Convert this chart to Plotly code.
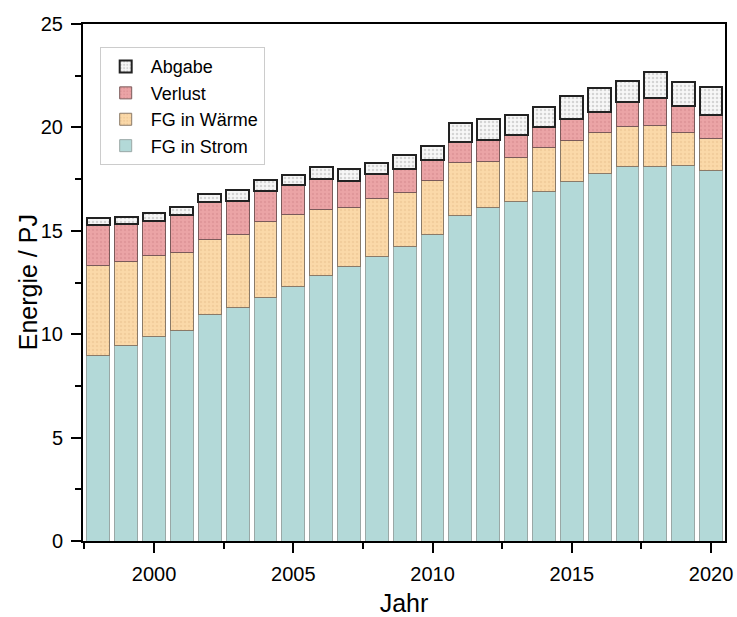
import plotly.graph_objects as go

years = list(range(1998, 2021))
fg_strom = [8.95, 9.46, 9.88, 10.19, 10.93, 11.30, 11.78, 12.31, 12.86, 13.25, 13.77, 14.23,
            14.80, 15.73, 16.12, 16.40, 16.92, 17.38, 17.76, 18.09, 18.12, 18.17, 17.93]
fg_waerme = [4.38, 4.05, 3.95, 3.75, 3.67, 3.52, 3.66, 3.50, 3.15, 2.89, 2.78, 2.61,
             2.61, 2.56, 2.22, 2.14, 2.12, 2.00, 1.97, 1.94, 1.98, 1.59, 1.51]
verlust = [1.95, 1.80, 1.66, 1.81, 1.78, 1.64, 1.48, 1.41, 1.48, 1.25, 1.20, 1.13,
           1.01, 1.00, 1.05, 1.09, 0.99, 1.03, 1.03, 1.18, 1.31, 1.27, 1.16]
abgabe = [0.32, 0.34, 0.36, 0.42, 0.42, 0.53, 0.54, 0.50, 0.61, 0.61, 0.51, 0.70,
          0.70, 0.92, 1.03, 0.97, 0.97, 1.12, 1.15, 1.03, 1.27, 1.17, 1.37]

series = [
    ("FG in Strom", fg_strom, "#b3d9d8", None, "#9aa8a6", 1),
    ("FG in Wärme", fg_waerme, "#fbd9a9", "#e8c08e", "#8a7a68", 1),
    ("Verlust", verlust, "#eba4a6", "#d48a8e", "#7a5a5a", 1),
    ("Abgabe", abgabe, "#f7f7f7", "#b0b0b0", "#222222", 2),
]

fig = go.Figure()
for name, vals, col, dotcol, linecol, lw in series:
    marker = dict(color=col, line=dict(color=linecol, width=lw))
    if dotcol:
        marker["pattern"] = dict(shape=".", bgcolor=col, fgcolor=dotcol,
                                 size=4, solidity=0.3, fillmode="overlay")
    fig.add_trace(go.Bar(x=years, y=vals, name=name, marker=marker, width=0.82))

fig.update_layout(
    barmode="stack",
    width=737, height=617,
    margin=dict(l=83, r=12, t=24, b=76),
    paper_bgcolor="white", plot_bgcolor="white",
    font=dict(family="Liberation Sans, Arial, sans-serif", color="black"),
    legend=dict(x=0.026, y=0.955, xanchor="left", yanchor="top",
                traceorder="reversed", bgcolor="white",
                bordercolor="#cccccc", borderwidth=1,
                font=dict(size=18), tracegroupgap=0, itemwidth=40),
    showlegend=True,
    annotations=[dict(text="Energie / PJ", xref="paper", yref="paper",
                      x=-0.086, y=0.5, xanchor="center", yanchor="middle",
                      textangle=-90, showarrow=False, font=dict(size=25))],
)
fig.update_xaxes(
    range=[1997.45, 2020.5], tick0=2000, dtick=5,
    ticks="outside", ticklen=10, tickwidth=1.5, tickcolor="black",
    minor=dict(dtick=2.5, tick0=2000, ticks="outside", ticklen=6, tickwidth=1.5, tickcolor="black"),
    showline=True, linecolor="black", linewidth=2, mirror=True,
    showgrid=False, zeroline=False, automargin=False,
    tickfont=dict(size=20), ticklabelstandoff=4,
    title=dict(text="Jahr", font=dict(size=25)),
)
fig.update_yaxes(
    range=[0, 25], tick0=0, dtick=5,
    ticks="outside", ticklen=10, tickwidth=1.5, tickcolor="black",
    minor=dict(dtick=2.5, tick0=0, ticks="outside", ticklen=6, tickwidth=1.5, tickcolor="black"),
    showline=True, linecolor="black", linewidth=2, mirror=True,
    showgrid=False, zeroline=False, automargin=False,
    tickfont=dict(size=20), ticklabelstandoff=4,
)

fig.write_html("out.html")
